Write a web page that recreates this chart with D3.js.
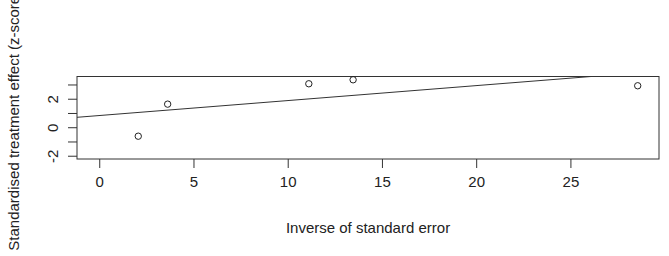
<!doctype html>
<html>
<head>
<meta charset="utf-8">
<script src="https://d3js.org/d3.v7.min.js"></script>
<style>
  body { margin: 0; background: #fff; }
  text { font-family: "Liberation Sans", Arial, sans-serif; fill: #222; }
</style>
</head>
<body>
<svg id="svg1" width="669" height="256"></svg>
<script>
// inverse of standard error (x) and standardised effect (z-score, y)
const precision = [2.07, 3.63, 11.12, 13.47, 28.57];
const zScore = [-0.63, 1.62, 3.05, 3.33, 2.91];
// fitted line: z = intercept + slope * precision
const intercept = 0.82;
const slope = 0.105;
const xTicks = [0, 5, 10, 15, 20, 25];
const yTicks = [-2, -1, 0, 1, 2, 3];
const yTickLabels = [-2, 0, 2];

const xLabel = "Inverse of standard error";
const yLabel = "Standardised treatment effect (z-score)";

const width = 669, height = 256;
const margin = { top: 76.5, right: 10, bottom: 97, left: 77 };

const svg = d3.select("#svg1");

const xScale = d3.scaleLinear()
  .domain([-1.18, 29.7])
  .range([margin.left, width - margin.right]);
const yScale = d3.scaleLinear()
  .domain([-2.23, 3.56])
  .range([height - margin.bottom, margin.top]);

const x0 = xScale.range()[0], x1 = xScale.range()[1];
const yTop = yScale.range()[1], yBot = yScale.range()[0];

svg.append("clipPath").attr("id", "clip")
  .append("rect")
  .attr("x", x0).attr("y", yTop)
  .attr("width", x1 - x0).attr("height", yBot - yTop);

// x axis
const xAxis = svg.append("g")
  .attr("transform", `translate(0,${yBot})`)
  .call(d3.axisBottom(xScale).tickValues(xTicks).tickSize(9).tickPadding(8).tickSizeOuter(0));
xAxis.select(".domain").remove();
xAxis.selectAll("line").attr("stroke", "#333");
xAxis.selectAll("text").style("font-size", "15px").attr("fill", "#222");

// y axis (labels every other tick, rotated like R's default)
const yAxis = svg.append("g")
  .attr("transform", `translate(${x0},0)`)
  .call(d3.axisLeft(yScale).tickValues(yTicks).tickSize(9).tickSizeOuter(0)
    .tickFormat(d => yTickLabels.includes(d) ? String(d) : ""));
yAxis.select(".domain").remove();
yAxis.selectAll("line").attr("stroke", "#333");
yAxis.selectAll("text")
  .style("font-size", "15px")
  .attr("fill", "#222")
  .attr("x", null)
  .attr("text-anchor", "middle")
  .attr("transform", "translate(-24,0) rotate(-90)")
  .attr("dy", "0.35em");

// box
svg.append("rect")
  .attr("x", x0).attr("y", yTop)
  .attr("width", x1 - x0).attr("height", yBot - yTop)
  .attr("fill", "none").attr("stroke", "#333").attr("stroke-width", 1);

// fitted line
const xd = xScale.domain();
svg.append("line")
  .attr("clip-path", "url(#clip)")
  .attr("x1", xScale(xd[0])).attr("y1", yScale(intercept + slope * xd[0]))
  .attr("x2", xScale(xd[1])).attr("y2", yScale(intercept + slope * xd[1]))
  .attr("stroke", "#333").attr("stroke-width", 1);

// points
svg.selectAll("circle.pt")
  .data(precision.map((p, i) => ({ p, z: zScore[i] })))
  .join("circle")
  .attr("class", "pt")
  .attr("cx", d => xScale(d.p))
  .attr("cy", d => yScale(d.z))
  .attr("r", 3.2)
  .attr("fill", "none")
  .attr("stroke", "#222")
  .attr("stroke-width", 1);

// axis titles
svg.append("text")
  .attr("x", (x0 + x1) / 2).attr("y", 233)
  .attr("text-anchor", "middle")
  .style("font-size", "15px")
  .text(xLabel);

svg.append("text")
  .attr("transform", `translate(19,${(yTop + yBot) / 2 + 3}) rotate(-90)`)
  .attr("text-anchor", "middle")
  .style("font-size", "15px")
  .text(yLabel);
</script>
</body>
</html>
